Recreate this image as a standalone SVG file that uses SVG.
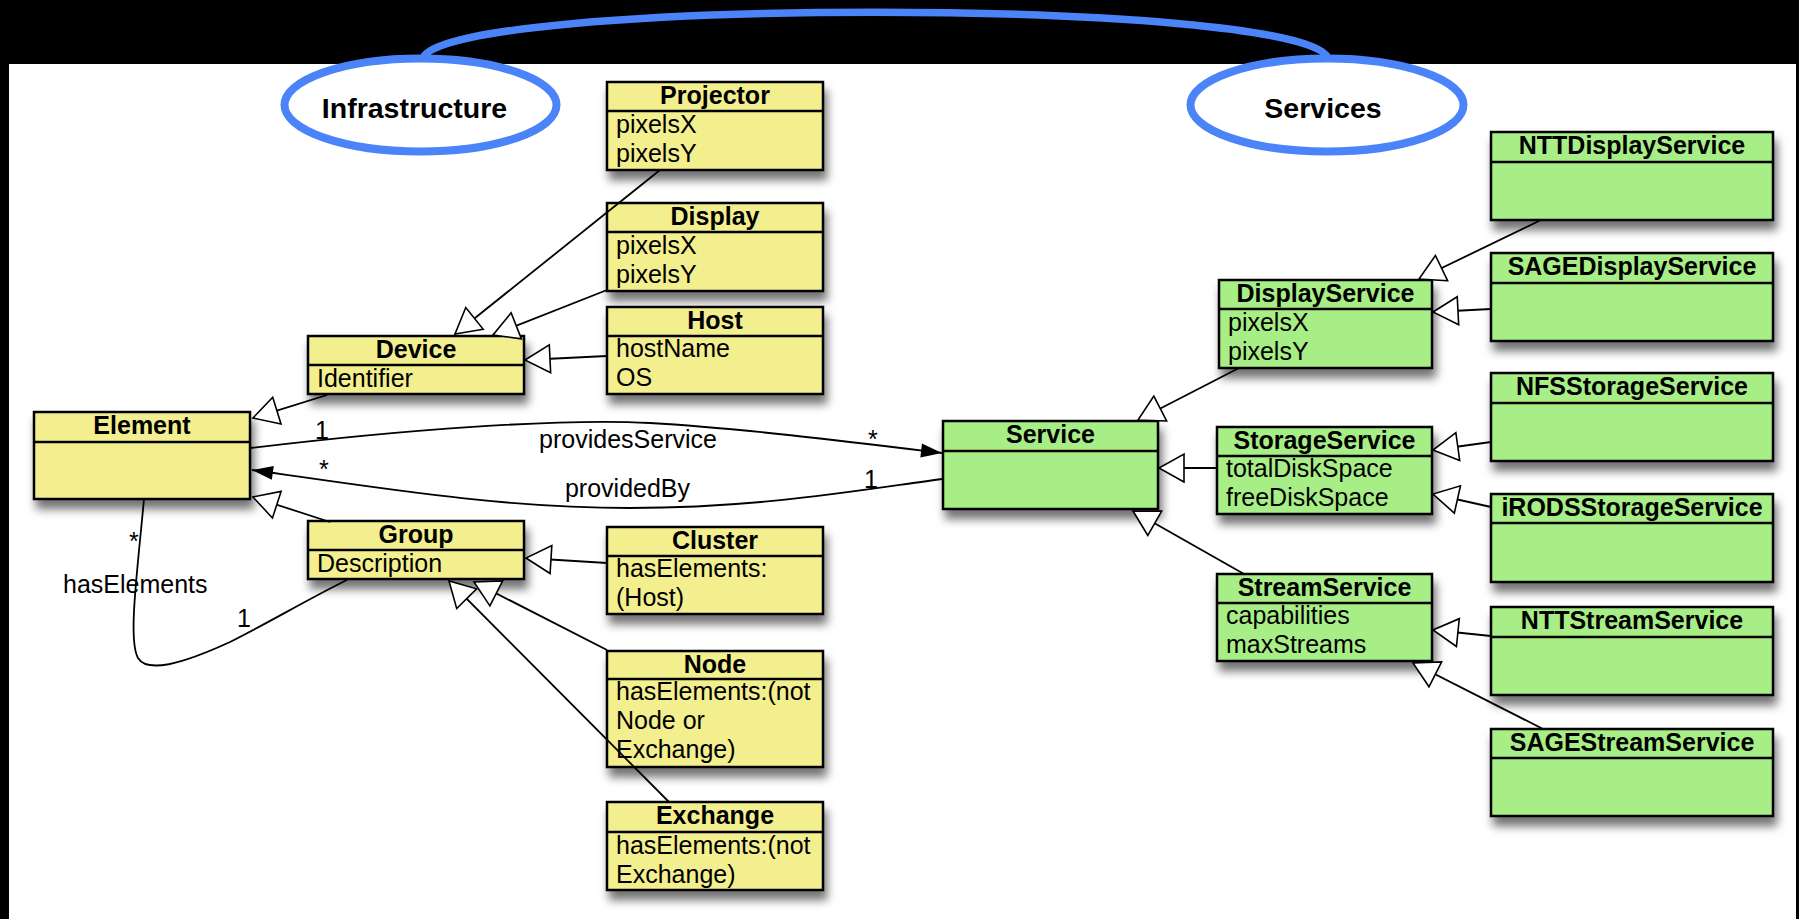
<svg xmlns="http://www.w3.org/2000/svg" width="1799" height="919" viewBox="0 0 1799 919">
<style>
.by{fill:#F3EF8F;stroke:#000;stroke-width:2.5;filter:url(#sh)}
.bg{fill:#A8EE86;stroke:#000;stroke-width:2.5;filter:url(#sh)}
.dv{stroke:#000;stroke-width:2.5}
.hd{font-family:"Liberation Sans",Arial,sans-serif;font-weight:bold;font-size:25px;text-anchor:middle;fill:#000}
.at{font-family:"Liberation Sans",Arial,sans-serif;font-size:25px;fill:#000}
.lb{font-family:"Liberation Sans",Arial,sans-serif;font-size:25px;fill:#000}
.el{fill:#fff;stroke:#4A84F8;stroke-width:8}
.et{font-family:"Liberation Sans",Arial,sans-serif;font-weight:bold;font-size:28.5px;text-anchor:middle;fill:#000}
.gen{fill:none;stroke:#000;stroke-width:1.8;marker-end:url(#tri)}
.asc{fill:none;stroke:#000;stroke-width:1.8}
</style>
<defs>
<filter id="sh" x="-10%" y="-20%" width="130%" height="160%">
<feDropShadow dx="3" dy="9" stdDeviation="5" flood-color="#000" flood-opacity="0.55"/>
</filter>
<marker id="tri" markerUnits="userSpaceOnUse" markerWidth="32" markerHeight="34" refX="28" refY="17" orient="auto" overflow="visible">
<path d="M3,3 L28,17 L3,31 Z" fill="#fff" stroke="#000" stroke-width="1.6"/>
</marker>
<marker id="arr" markerUnits="userSpaceOnUse" markerWidth="24" markerHeight="16" refX="21" refY="7" orient="auto" overflow="visible">
<path d="M0,0 L21,7 L0,14 Z" fill="#000"/>
</marker>
</defs>
<rect x="0" y="0" width="1799" height="919" fill="#000"/>
<rect x="9" y="64" width="1787" height="855" fill="#fff"/>

<g id="arc">
<path d="M423,58 C 448,-3 1303,-3 1328,58" fill="none" stroke="#4A84F8" stroke-width="7.5"/>
</g>
<g id="infrastructure">
<ellipse class="el" cx="420.5" cy="105" rx="136" ry="46.5"/>
<text class="et" x="414.5" y="118">Infrastructure</text>
</g>
<g id="services">
<ellipse class="el" cx="1327" cy="105" rx="136.5" ry="46.5"/>
<text class="et" x="1323" y="118">Services</text>
</g>

<g id="projector">
<rect class="by" x="607" y="82" width="216" height="88"/>
<line class="dv" x1="607" y1="111" x2="823" y2="111"/>
<text class="hd" x="715" y="104">Projector</text>
<text class="at" x="616" y="133">pixelsX</text>
<text class="at" x="616" y="162">pixelsY</text>
</g>
<g id="display">
<rect class="by" x="607" y="203" width="216" height="88"/>
<line class="dv" x1="607" y1="232" x2="823" y2="232"/>
<text class="hd" x="715" y="225">Display</text>
<text class="at" x="616" y="254">pixelsX</text>
<text class="at" x="616" y="283">pixelsY</text>
</g>
<g id="host">
<rect class="by" x="607" y="307" width="216" height="87"/>
<line class="dv" x1="607" y1="336" x2="823" y2="336"/>
<text class="hd" x="715" y="329">Host</text>
<text class="at" x="616" y="357">hostName</text>
<text class="at" x="616" y="386">OS</text>
</g>
<g id="device">
<rect class="by" x="308" y="336" width="216" height="58"/>
<line class="dv" x1="308" y1="365" x2="524" y2="365"/>
<text class="hd" x="416" y="358">Device</text>
<text class="at" x="317" y="387">Identifier</text>
</g>
<g id="element">
<rect class="by" x="34" y="412" width="216" height="87"/>
<line class="dv" x1="34" y1="442" x2="250" y2="442"/>
<text class="hd" x="142" y="434">Element</text>
</g>
<g id="group">
<rect class="by" x="308" y="521" width="216" height="58"/>
<line class="dv" x1="308" y1="550" x2="524" y2="550"/>
<text class="hd" x="416" y="543">Group</text>
<text class="at" x="317" y="572">Description</text>
</g>
<g id="cluster">
<rect class="by" x="607" y="527" width="216" height="87"/>
<line class="dv" x1="607" y1="556" x2="823" y2="556"/>
<text class="hd" x="715" y="549">Cluster</text>
<text class="at" x="616" y="577">hasElements:</text>
<text class="at" x="616" y="606">(Host)</text>
</g>
<g id="node">
<rect class="by" x="607" y="651" width="216" height="116"/>
<line class="dv" x1="607" y1="679" x2="823" y2="679"/>
<text class="hd" x="715" y="673">Node</text>
<text class="at" x="616" y="700">hasElements:(not</text>
<text class="at" x="616" y="729">Node or</text>
<text class="at" x="616" y="758">Exchange)</text>
</g>
<g id="exchange">
<rect class="by" x="607" y="802" width="216" height="88"/>
<line class="dv" x1="607" y1="832" x2="823" y2="832"/>
<text class="hd" x="715" y="824">Exchange</text>
<text class="at" x="616" y="854">hasElements:(not</text>
<text class="at" x="616" y="883">Exchange)</text>
</g>

<g id="service">
<rect class="bg" x="943" y="421" width="215" height="88"/>
<line class="dv" x1="943" y1="451" x2="1158" y2="451"/>
<text class="hd" x="1050.5" y="443">Service</text>
</g>
<g id="displayservice">
<rect class="bg" x="1219" y="280" width="213" height="88"/>
<line class="dv" x1="1219" y1="309" x2="1432" y2="309"/>
<text class="hd" x="1325.5" y="302">DisplayService</text>
<text class="at" x="1228" y="331">pixelsX</text>
<text class="at" x="1228" y="360">pixelsY</text>
</g>
<g id="storageservice">
<rect class="bg" x="1217" y="427" width="215" height="87"/>
<line class="dv" x1="1217" y1="456" x2="1432" y2="456"/>
<text class="hd" x="1324.5" y="449">StorageService</text>
<text class="at" x="1226" y="477">totalDiskSpace</text>
<text class="at" x="1226" y="506">freeDiskSpace</text>
</g>
<g id="streamservice">
<rect class="bg" x="1217" y="574" width="215" height="87"/>
<line class="dv" x1="1217" y1="603" x2="1432" y2="603"/>
<text class="hd" x="1324.5" y="596">StreamService</text>
<text class="at" x="1226" y="624">capabilities</text>
<text class="at" x="1226" y="653">maxStreams</text>
</g>
<g id="nttdisplayservice">
<rect class="bg" x="1491" y="132" width="282" height="88"/>
<line class="dv" x1="1491" y1="162" x2="1773" y2="162"/>
<text class="hd" x="1632" y="154">NTTDisplayService</text>
</g>
<g id="sagedisplayservice">
<rect class="bg" x="1491" y="253" width="282" height="88"/>
<line class="dv" x1="1491" y1="283" x2="1773" y2="283"/>
<text class="hd" x="1632" y="275">SAGEDisplayService</text>
</g>
<g id="nfsstorageservice">
<rect class="bg" x="1491" y="373" width="282" height="88"/>
<line class="dv" x1="1491" y1="403" x2="1773" y2="403"/>
<text class="hd" x="1632" y="395">NFSStorageService</text>
</g>
<g id="irodsstorageservice">
<rect class="bg" x="1491" y="494" width="282" height="88"/>
<line class="dv" x1="1491" y1="523" x2="1773" y2="523"/>
<text class="hd" x="1632" y="516">iRODSStorageService</text>
</g>
<g id="nttstreamservice">
<rect class="bg" x="1491" y="607" width="282" height="88"/>
<line class="dv" x1="1491" y1="637" x2="1773" y2="637"/>
<text class="hd" x="1632" y="629">NTTStreamService</text>
</g>
<g id="sagestreamservice">
<rect class="bg" x="1491" y="729" width="282" height="87"/>
<line class="dv" x1="1491" y1="758" x2="1773" y2="758"/>
<text class="hd" x="1632" y="751">SAGEStreamService</text>
</g>

<g id="connectors">
<path class="gen" d="M660,170 L455,334"/>
<path class="gen" d="M607,290 L493,335"/>
<path class="gen" d="M607,356 L525,360"/>
<path class="gen" d="M327,395 L253,418"/>
<path class="gen" d="M330,522 L253,497"/>
<path class="gen" d="M607,563 L526,558"/>
<path class="gen" d="M607,650 L474,582"/>
<path class="gen" d="M669,802 L449,581"/>
<path class="gen" d="M1541,220 L1419,279"/>
<path class="gen" d="M1491,309 L1433,312"/>
<path class="gen" d="M1239,368 L1138,420"/>
<path class="gen" d="M1491,442 L1433,450"/>
<path class="gen" d="M1491,507 L1433,494"/>
<path class="gen" d="M1217,468 L1159,468"/>
<path class="gen" d="M1244,574 L1133,511"/>
<path class="gen" d="M1491,636 L1433,630"/>
<path class="gen" d="M1543,729 L1413,663"/>
<path class="asc" d="M251,448 C 400,430 560,418 650,423 C 740,428 860,443 942,453" marker-end="url(#arr)"/>
<path class="asc" d="M942,479 C 860,490 760,508 630,508 C 500,508 380,488 252,470" marker-end="url(#arr)"/>
<path class="asc" d="M144,499 C 137,575 128,640 138,658 C 147,673 180,665 230,642 C 270,622 310,598 347,580"/>
<text class="lb" x="315" y="439">1</text>
<text class="lb" x="628" y="448" text-anchor="middle">providesService</text>
<text class="lb" x="868" y="448">*</text>
<text class="lb" x="319" y="478">*</text>
<text class="lb" x="627.5" y="497" text-anchor="middle">providedBy</text>
<text class="lb" x="864" y="488">1</text>
<text class="lb" x="129" y="550">*</text>
<text class="lb" x="63" y="593">hasElements</text>
<text class="lb" x="237" y="627">1</text>
</g>
</svg>
